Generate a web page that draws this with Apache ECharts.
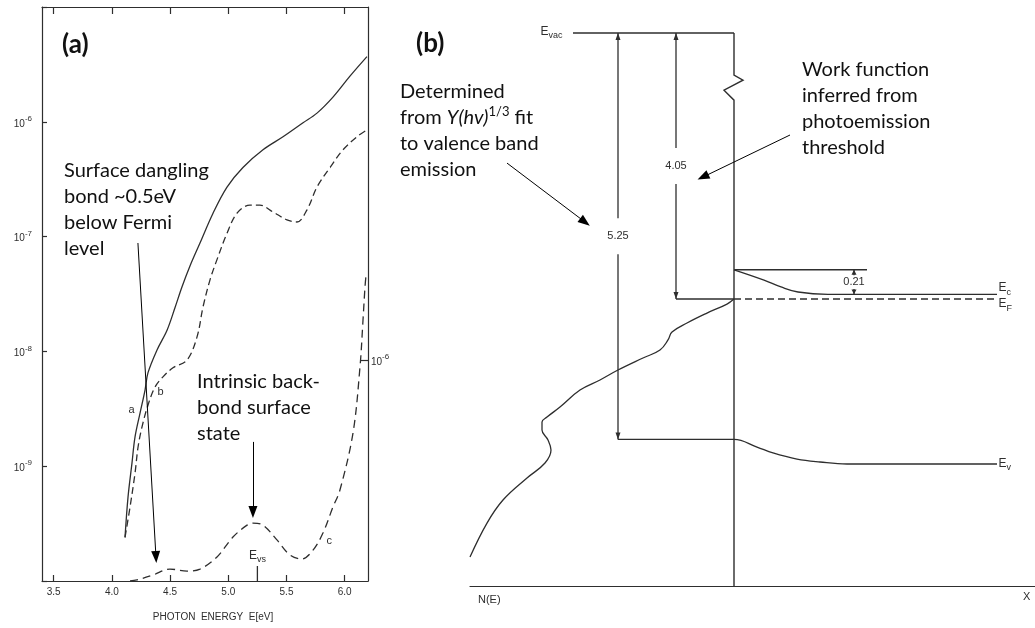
<!DOCTYPE html>
<html>
<head>
<meta charset="utf-8">
<script src="https://cdn.jsdelivr.net/npm/echarts@6/dist/echarts.min.js"></script>
<style>
  html, body { margin: 0; padding: 0; background: #fff; }
  #chart { width: 1035px; height: 628px; }
</style>
</head>
<body>
<div id="chart"></div>
<script>
// ---------- (a) photoyield spectra ----------
const photonEnergyTicks = [3.5, 4.0, 4.5, 5.0, 5.5, 6.0];
// curve a: yield (log scale)
const curveA_E = [4.113, 4.139, 4.173, 4.199, 4.242, 4.285, 4.310, 4.388, 4.474, 4.542, 4.602, 4.671, 4.757, 4.869, 4.989, 5.126, 5.298, 5.470, 5.642, 5.762, 5.899, 6.045, 6.191];
const curveA_Y = [2.4e-10, 5.4e-10, 1.07e-9, 1.8e-9, 2.9e-9, 4.6e-9, 6.5e-9, 1.03e-8, 1.53e-8, 2.4e-8, 3.64e-8, 5.55e-8, 8.8e-8, 1.6e-7, 2.7e-7, 4.0e-7, 5.7e-7, 7.4e-7, 9.8e-7, 1.19e-6, 1.64e-6, 2.5e-6, 3.7e-6];
// curve b: yield (log scale)
const curveB_E = [4.113, 4.156, 4.199, 4.225, 4.259, 4.310, 4.371, 4.439, 4.525, 4.645, 4.731, 4.783, 4.843, 4.903, 4.989, 5.075, 5.186, 5.272, 5.384, 5.504, 5.590, 5.676, 5.762, 5.874, 5.985, 6.105, 6.191];
const curveB_Y = [2.4e-10, 4.4e-10, 8.7e-10, 1.47e-9, 2.2e-9, 3.4e-9, 4.9e-9, 6.0e-9, 7.2e-9, 8.4e-9, 1.33e-8, 2.44e-8, 4.2e-8, 6.3e-8, 1.07e-7, 1.6e-7, 1.88e-7, 1.88e-7, 1.64e-7, 1.40e-7, 1.34e-7, 1.71e-7, 2.7e-7, 4.0e-7, 5.7e-7, 7.4e-7, 8.5e-7];
// curve c: yield difference on the linear right-hand scale (units of 1e-6)
const curveC_E = [4.156, 4.216, 4.353, 4.499, 4.645, 4.757, 4.903, 5.040, 5.161, 5.212, 5.298, 5.418, 5.530, 5.633, 5.728, 5.813, 5.899, 5.959, 6.071, 6.131, 6.157, 6.174, 6.183];
const curveC_Y = [0.0, 0.005, 0.027, 0.054, 0.045, 0.054, 0.109, 0.199, 0.253, 0.262, 0.253, 0.186, 0.118, 0.100, 0.140, 0.217, 0.335, 0.412, 0.670, 0.968, 1.181, 1.330, 1.385];
const E_VS = 5.25;

// ---------- (b) band diagram, energies in eV relative to E_F ----------
const E_VAC = 4.05;
const EV_SURFACE = -1.20;   // E_vac - 5.25
const EC_SURFACE = 0.25;
const EC_BULK = 0.04;       // surface band bending 0.21 eV
const AXIS_BOTTOM_E = -2.453;
// horizontal positions (surface at 0)
const vacuumX = [-1.61, 0];
const fermiSurfaceX = [-0.58, 0];
const fermiBulkX = [0, 2.63];
const ecRefX = [0, 1.33];
const ecBandX = [0, 0.30, 0.47, 0.64, 0.94, 2.63];
const ecBandE = [0.25, 0.162, 0.103, 0.06, 0.04, 0.04];
const evBandX = [-1.16, 0, 0.23, 0.39, 0.63, 0.86, 1.13, 2.63];
const evBandE = [-1.20, -1.20, -1.265, -1.316, -1.368, -1.393, -1.41, -1.41];
// density of states N(E), drawn against energy
const dosX = [-2.64, -2.47, -2.31, -2.07, -1.89, -1.83, -1.86, -1.92, -1.92, -1.87, -1.74, -1.54, -1.34, -1.16, -0.91, -0.74, -0.66, -0.62, -0.47, -0.27, -0.07, 0];
const dosE = [-2.205, -1.915, -1.718, -1.530, -1.402, -1.291, -1.205, -1.120, -1.051, -1.009, -0.923, -0.778, -0.692, -0.607, -0.504, -0.436, -0.350, -0.282, -0.205, -0.120, -0.043, 0];
// energy arrows: [x, upper level, lower level]
const energyArrows = [
  [-1.16, E_VAC, EV_SURFACE],
  [-0.58, E_VAC, 0],
  [1.20, EC_SURFACE, EC_BULK]
];
// the energy scale is broken between these two levels
const BREAK_START = 1.70;
const BREAK_END = 3.69;

// ---------- styling ----------
const INK = '#2e2e2e';
const SMALL = 'Liberation Sans';
const NOTE = 'Lato';

const zip = (xs, ys) => xs.map((x, i) => [x, ys[i]]);
function labelled(points, idx, label) {
  const d = points.map(p => ({ value: p }));
  d[idx] = { value: points[idx], label: Object.assign({ show: true }, label) };
  return d;
}
const supRich = {
  b: { fontSize: 10, fontFamily: SMALL, color: INK, lineHeight: 14, verticalAlign: 'bottom' },
  s: { fontSize: 8, fontFamily: SMALL, color: INK, lineHeight: 9, verticalAlign: 'top' }
};
const subRich = {
  e: { fontSize: 12, fontFamily: SMALL, color: INK, lineHeight: 15, verticalAlign: 'top' },
  u: { fontSize: 9, fontFamily: SMALL, color: INK, lineHeight: 9, verticalAlign: 'bottom' }
};
const axisLine = { show: true, onZero: false, lineStyle: { color: INK, width: 1.2 } };
const curveLine = (type) => ({ color: INK, width: 1.3, type: type || 'solid' });
const smallLabel = (text, extra) => Object.assign({ formatter: text, fontSize: 11, fontFamily: SMALL, color: INK }, extra);
// invisible point markers, so that single points can carry a text label
const hiddenMarks = { symbol: 'circle', symbolSize: 1, showSymbol: true, showAllSymbol: true, itemStyle: { color: 'rgba(0,0,0,0)', borderWidth: 0 } };

const chart = echarts.init(document.getElementById('chart'));

const option = {
  animation: false,
  backgroundColor: '#fff',
  textStyle: { fontFamily: SMALL },
  grid: [
    { left: 42, top: 7, width: 326, height: 574 },
    { left: 470, top: 20, width: 565, height: 566 }
  ],
  xAxis: [
    {
      gridIndex: 0, type: 'value', min: 3.4, max: 6.2, position: 'bottom',
      axisLine: axisLine,
      axisTick: { inside: true, length: 6, customValues: photonEnergyTicks, lineStyle: { color: INK, width: 1.2 } },
      axisLabel: { customValues: photonEnergyTicks, formatter: v => v.toFixed(1), margin: 6, fontSize: 10, color: INK, fontFamily: SMALL },
      splitLine: { show: false },
      name: 'PHOTON  ENERGY  E[eV]', nameLocation: 'middle', nameGap: 31,
      nameTextStyle: { fontSize: 10, color: INK, fontFamily: SMALL, padding: [0, 0, 0, 16] }
    },
    {
      gridIndex: 0, type: 'value', min: 3.4, max: 6.2, position: 'top',
      axisLine: axisLine,
      axisTick: { inside: true, length: 7, customValues: photonEnergyTicks, lineStyle: { color: INK, width: 1.2 } },
      axisLabel: { show: false }, splitLine: { show: false }
    },
    {
      gridIndex: 1, type: 'value', min: -2.64, max: 3.01,
      axisLine: axisLine, axisTick: { show: false }, axisLabel: { show: false }, splitLine: { show: false }
    }
  ],
  yAxis: [
    {
      gridIndex: 0, type: 'log', logBase: 10, min: 1e-10, max: 1e-5, position: 'left',
      axisLine: axisLine,
      axisTick: { inside: true, length: 5, lineStyle: { color: INK, width: 1.2 } },
      axisLabel: {
        margin: 10, rich: supRich,
        formatter: v => {
          const e = Math.round(Math.log10(v));
          return (e <= -10 || e >= -5) ? '' : '{b|10}{s|' + e + '}';
        }
      },
      splitLine: { show: false }, minorTick: { show: false }
    },
    {
      gridIndex: 0, type: 'value', min: 0, max: 2.6, position: 'right',
      axisLine: axisLine,
      axisTick: { inside: true, length: 8, customValues: [1], lineStyle: { color: INK, width: 1.2 } },
      axisLabel: { customValues: [1], margin: 3, rich: supRich, formatter: () => '{b|10}{s|-6}' },
      splitLine: { show: false }
    },
    {
      gridIndex: 1, type: 'value', min: AXIS_BOTTOM_E, max: 4.161,
      breaks: [{ start: BREAK_START, end: BREAK_END, gap: 0.214 }],
      breakArea: { show: false },
      axisLine: { show: false }, axisTick: { show: false }, axisLabel: { show: false }, splitLine: { show: false }
    }
  ],
  series: [
    // ---------- (a) ----------
    Object.assign({
      name: 'a', type: 'line', xAxisIndex: 0, yAxisIndex: 0, smooth: 0.35,
      lineStyle: curveLine(),
      data: labelled(zip(curveA_E, curveA_Y), 4, smallLabel('a', { position: 'left', distance: 5, offset: [0, -3] }))
    }, hiddenMarks),
    Object.assign({
      name: 'b', type: 'line', xAxisIndex: 0, yAxisIndex: 0, smooth: 0.35,
      lineStyle: curveLine([7, 4]),
      data: labelled(zip(curveB_E, curveB_Y), 6, smallLabel('b', { position: 'right', distance: 2, offset: [0, 5] }))
    }, hiddenMarks),
    Object.assign({
      name: 'c', type: 'line', xAxisIndex: 0, yAxisIndex: 1, smooth: 0.35,
      lineStyle: curveLine([8, 5]),
      data: labelled(zip(curveC_E, curveC_Y), 15, smallLabel('c', { position: 'right', distance: 3, offset: [0, 8] })),
      markLine: {
        silent: true, symbol: ['none', 'triangle'], symbolSize: [9, 12],
        label: { show: false }, lineStyle: { color: '#000', width: 1, type: 'solid' },
        data: [
          [{ coord: [4.224, 1.531] }, { coord: [4.379, 0.109] }],
          [{ coord: [5.212, 0.630] }, { coord: [5.212, 0.3125] }]
        ]
      }
    }, hiddenMarks),
    Object.assign({
      name: 'Evs', type: 'line', xAxisIndex: 0, yAxisIndex: 1,
      lineStyle: { color: INK, width: 1.3 },
      data: labelled([[E_VS, 0], [E_VS, 0.068]], 1, { formatter: '{e|E}{u|vs}', rich: subRich, position: 'top', distance: 1 })
    }, hiddenMarks),
    // ---------- (b) ----------
    {
      name: 'N(E)', type: 'line', xAxisIndex: 2, yAxisIndex: 2, smooth: 0.4, symbol: 'none',
      lineStyle: curveLine(), data: zip(dosX, dosE),
      markLine: {
        silent: true, symbol: ['none', 'triangle'], symbolSize: [9, 12],
        label: { show: false }, lineStyle: { color: '#000', width: 1, type: 'solid' },
        data: [
          [{ coord: [-2.27, 1.162] }, { coord: [-1.49, 0.658] }],
          [{ coord: [0.56, 1.402] }, { coord: [-0.31, 1.043] }]
        ]
      }
    },
    Object.assign({
      name: 'vacuum level', type: 'line', xAxisIndex: 2, yAxisIndex: 2,
      lineStyle: curveLine(),
      data: labelled(zip(vacuumX, [E_VAC, E_VAC]), 0, { formatter: '{e|E}{u|vac}', rich: subRich, position: 'left', distance: 10 })
    }, hiddenMarks),
    {
      name: 'Fermi level (surface)', type: 'line', xAxisIndex: 2, yAxisIndex: 2, symbol: 'none',
      lineStyle: curveLine(), data: zip(fermiSurfaceX, [0, 0])
    },
    Object.assign({
      name: 'Fermi level', type: 'line', xAxisIndex: 2, yAxisIndex: 2,
      lineStyle: curveLine([7, 4]),
      data: labelled(zip(fermiBulkX, [0, 0]), 1, { formatter: '{e|E}{u|F}', rich: subRich, position: 'right', distance: 1, offset: [0, 6] })
    }, hiddenMarks),
    {
      name: 'Ec surface', type: 'line', xAxisIndex: 2, yAxisIndex: 2, symbol: 'none',
      lineStyle: curveLine(), data: zip(ecRefX, [EC_SURFACE, EC_SURFACE])
    },
    Object.assign({
      name: 'Ec', type: 'line', xAxisIndex: 2, yAxisIndex: 2, smooth: 0.4,
      lineStyle: curveLine(),
      data: labelled(zip(ecBandX, ecBandE), ecBandX.length - 1, { formatter: '{e|E}{u|c}', rich: subRich, position: 'right', distance: 1, offset: [0, -5] })
    }, hiddenMarks),
    Object.assign({
      name: 'Ev', type: 'line', xAxisIndex: 2, yAxisIndex: 2, smooth: 0.4,
      lineStyle: curveLine(),
      data: labelled(zip(evBandX, evBandE), evBandX.length - 1, { formatter: '{e|E}{u|v}', rich: subRich, position: 'right', distance: 1, offset: [0, 1] })
    }, hiddenMarks),
    {
      // the surface: a vertical line with a break mark in the energy scale
      name: 'surface', type: 'custom', xAxisIndex: 2, yAxisIndex: 2, clip: false,
      data: [[0, E_VAC, AXIS_BOTTOM_E]],
      renderItem: (params, api) => {
        const x = api.value(0);
        const pTop = api.coord([x, api.value(1)]);
        const pBot = api.coord([x, api.value(2)]);
        const bTop = api.coord([x, BREAK_END]);
        const bBot = api.coord([x, BREAK_START]);
        const h = bBot[1] - bTop[1];
        return {
          type: 'polyline',
          shape: { points: [pTop, bTop, [bTop[0] + 9, bTop[1] + 0.2 * h], [bTop[0] - 10, bTop[1] + 0.6 * h], bBot, pBot] },
          style: { stroke: INK, lineWidth: 1.4, fill: null }
        };
      }
    },
    {
      name: 'energy differences', type: 'custom', xAxisIndex: 2, yAxisIndex: 2, clip: false,
      data: energyArrows,
      renderItem: (params, api) => {
        const x = api.value(0), top = api.value(1), bot = api.value(2);
        const p1 = api.coord([x, top]), p2 = api.coord([x, bot]);
        const len = p2[1] - p1[1];
        const mid = (p1[1] + p2[1]) / 2;
        const g = Math.min(18, len * 0.28);
        const hl = Math.min(7, len * 0.2);
        const head = (px, py, dir) => ({
          type: 'polygon',
          shape: { points: [[px, py], [px - 2.5, py - dir * hl], [px + 2.5, py - dir * hl]] },
          style: { fill: INK }
        });
        return {
          type: 'group',
          children: [
            { type: 'line', shape: { x1: p1[0], y1: p1[1], x2: p1[0], y2: mid - g }, style: { stroke: INK, lineWidth: 1.3 } },
            { type: 'line', shape: { x1: p2[0], y1: mid + g, x2: p2[0], y2: p2[1] }, style: { stroke: INK, lineWidth: 1.3 } },
            head(p1[0], p1[1], -1),
            head(p2[0], p2[1], 1),
            {
              type: 'text',
              style: { text: (top - bot).toFixed(2), x: p1[0], y: mid, align: 'center', verticalAlign: 'middle', fontSize: 11, fontFamily: SMALL, fill: INK }
            }
          ]
        };
      }
    }
  ],
  graphic: [
    { type: 'text', x: 62, y: 45, style: { text: '(a)', fontSize: 26, fontWeight: 'bold', fontFamily: NOTE, fill: '#111', verticalAlign: 'middle' } },
    { type: 'text', x: 416, y: 44, style: { text: '(b)', fontSize: 26, fontWeight: 'bold', fontFamily: NOTE, fill: '#111', verticalAlign: 'middle' } },
    {
      type: 'text', x: 64, y: 158,
      style: { text: 'Surface dangling\nbond ~0.5eV\nbelow Fermi\nlevel', fontSize: 20, fontFamily: NOTE, lineHeight: 26, fill: '#111', verticalAlign: 'top' }
    },
    {
      type: 'text', x: 197, y: 369,
      style: { text: 'Intrinsic back-\nbond surface\nstate', fontSize: 20, fontFamily: NOTE, lineHeight: 26, fill: '#111', verticalAlign: 'top' }
    },
    {
      type: 'text', x: 400, y: 79,
      style: {
        text: '{r|Determined}\n{r|from }{i|Y(hv)}{s|1/3}{r| fit}\n{r|to valence band}\n{r|emission}',
        verticalAlign: 'top', fill: '#111',
        rich: {
          r: { fontSize: 20, fontFamily: NOTE, lineHeight: 26, verticalAlign: 'middle', color: '#111' },
          i: { fontSize: 20, fontFamily: NOTE, fontStyle: 'italic', lineHeight: 26, verticalAlign: 'middle', color: '#111' },
          s: { fontSize: 13, fontFamily: NOTE, lineHeight: 14, verticalAlign: 'top', color: '#111' }
        }
      }
    },
    {
      type: 'text', x: 802, y: 57,
      style: { text: 'Work function\ninferred from\nphotoemission\nthreshold', fontSize: 20, fontFamily: NOTE, lineHeight: 26, fill: '#111', verticalAlign: 'top' }
    },
    { type: 'text', x: 478, y: 600, style: { text: 'N(E)', fontSize: 11, fontFamily: SMALL, fill: INK, verticalAlign: 'middle' } },
    { type: 'text', x: 1023, y: 597, style: { text: 'X', fontSize: 11, fontFamily: SMALL, fill: INK, verticalAlign: 'middle' } }
  ]
};

chart.setOption(option);
</script>
</body>
</html>
